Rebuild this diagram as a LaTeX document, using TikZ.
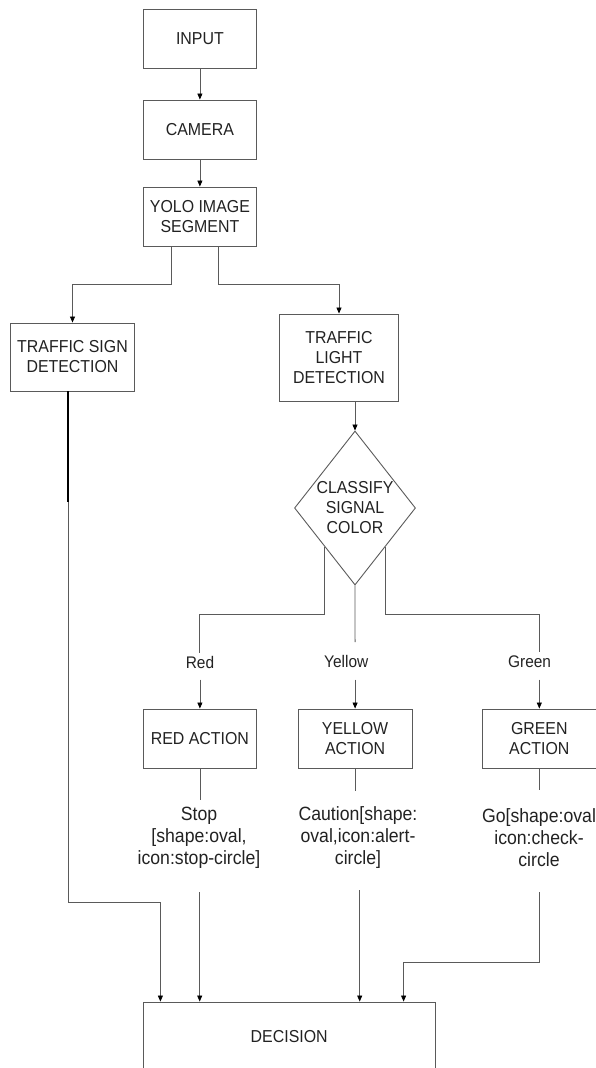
\documentclass[tikz,border=0pt]{standalone}
\usepackage{fontspec}
\setmainfont{Liberation Sans}[FakeStretch=0.92]
\usetikzlibrary{shapes.geometric,arrows.meta,calc}
\definecolor{linegray}{HTML}{5A5A5A}
\definecolor{textgray}{HTML}{222222}
\begin{document}
\begin{tikzpicture}[x=1pt,y=-1pt,
  box/.style={draw=linegray,line width=0.9pt,minimum height=59pt,inner sep=0pt,align=center,text=textgray,font=\fontsize{17.3}{20}\selectfont},
  diam/.style={draw=linegray,line width=0.9pt,shape=diamond,minimum width=121pt,minimum height=154pt,inner sep=0pt},
  btext/.style={align=center,text=textgray,inner sep=0pt,font=\fontsize{17.3}{20}\selectfont},
  lbl/.style={text=textgray,inner sep=0pt,font=\fontsize{16.8}{20}\selectfont},
  note/.style={align=center,text=textgray,inner sep=0pt,font=\fontsize{19.2}{22}\selectfont},
  conn/.style={draw=linegray,line width=0.8pt},
  arr/.style={conn,-{Triangle[length=6pt,width=5pt,color=black]}}
]
\path[use as bounding box] (0,0) rectangle (596,1068);
\clip (0,0) rectangle (596,1068);

% nodes
\node[box,minimum width=113.4pt] (input) at (199.9,38.5) {INPUT};
\node[box,minimum width=113.4pt] (camera) at (199.9,129.5) {CAMERA};
\node[box,minimum width=113.4pt] (yolo) at (199.9,216.5) {YOLO IMAGE\\SEGMENT};
\node[box,minimum width=123.7pt,minimum height=68pt] (tsd) at (72.5,357) {TRAFFIC SIGN\\DETECTION};
\node[box,minimum width=118.3pt,minimum height=87pt] (tld) at (339,357.5) {TRAFFIC\\LIGHT\\DETECTION};
\node[diam] (cls) at (355,508) {};
\node[btext] (clstext) at (cls.center) {CLASSIFY\\SIGNAL\\COLOR};

\node[lbl] (red) at (200,662) {Red};
\node[lbl] (yellow) at (346.3,661) {Yellow};
\node[lbl] (green) at (529.6,662) {Green};

\node[box,minimum width=113.4pt] (ra) at (199.9,738.5) {RED ACTION};
\node[box,minimum width=113.8pt] (ya) at (355.1,738.5) {YELLOW\\ACTION};
\node[box,minimum width=114.2pt] (ga) at (539.3,738.5) {GREEN\\ACTION};

\node[note] (stop) at (199,838) {Stop\\{}[shape:oval,\\icon:stop-circle]};
\node[note] (caution) at (358,838) {Caution[shape:\\oval,icon:alert-\\circle]};
\node[note] (go) at (539,838) {Go[shape:oval\\icon:check-\\circle};

\node[box,minimum width=292pt,minimum height=70pt] (dec) at (289.2,1037) {DECISION};

% coordinates for free ends
\coordinate (redin) at (199.7,653);
\coordinate (yelin) at (355.1,642);
\coordinate (grnin) at (539.5,652);
\coordinate (tsbend) at (68,902);
\coordinate (rs) at (199.7,892);
\coordinate (ys) at (359.7,890);
\coordinate (gs) at (539.5,892);

% connectors
\draw[arr] (input) -- (camera);
\draw[arr] (camera) -- (yolo);
\draw[arr] ([xshift=-28.1pt]yolo.south) -- ++(0,38) -| (tsd.north);
\draw[arr] ([xshift=18.5pt]yolo.south) -- ++(0,38) -| (tld.north);
\draw[arr] (tld.south -| cls.north) -- (cls.north);

\draw[conn] ($(cls.west)!0.5!(cls.south)$) -- ++(0,67.5) -| (redin);
\draw[conn] (cls.south) -- (yelin);
\draw[conn] ($(cls.east)!0.5!(cls.south)$) -- ++(0,67.5) -| (grnin);

\draw[arr] ([yshift=29pt]ra.north) -- (ra.north);
\draw[arr] ([yshift=29pt]ya.north) -- (ya.north);
\draw[arr] ([yshift=29pt]ga.north) -- (ga.north);

\draw[conn] (ra.south) -- ++(0,32);
\draw[conn] (ya.south) -- ++(0,23);
\draw[conn] (ga.south) -- ++(0,22);

\draw[arr] (tsd.south -| tsbend) -- (tsbend) -| ([xshift=-128.8pt]dec.north);
\draw[line width=2.2pt] (tsd.south -| tsbend) -- ++(0,111);
\draw[arr] (rs) -- (rs |- dec.north);
\draw[arr] (ys) -- (ys |- dec.north);
\draw[arr] (gs) -- ++(0,70) -| ([xshift=114.4pt]dec.north);
\end{tikzpicture}
\end{document}
